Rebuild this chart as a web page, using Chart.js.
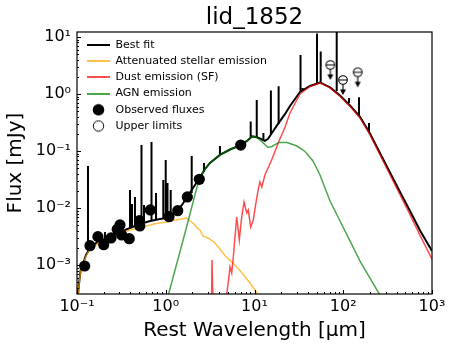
<!DOCTYPE html>
<html lang="en">
<head>
  <meta charset="UTF-8">
  <title>lid_1852</title>
  <script src="https://cdn.jsdelivr.net/npm/chart.js"></script>
  <style>
    html, body {
      margin: 0;
      padding: 0;
      background: #fff;
    }

    .box {
      width: 452px;
      height: 350px;
    }
  </style>
</head>
<body>
  <div class="box"><canvas id="sed"></canvas></div>
  <script>
  // best fit continuum (wavelength in micron, flux in mJy)
  const fitWave = [0.1013, 0.1053, 0.1095, 0.1139, 0.1199, 0.1263, 0.1365, 0.1476, 0.1595, 0.1816, 0.2067, 0.2353, 0.268, 0.305, 0.3474, 0.3955, 0.450, 0.513, 0.665, 0.861, 1.033, 1.176, 1.339, 1.524, 1.736, 2.028, 2.37, 2.77, 3.15, 4.08, 5.30, 6.87, 8.23, 9.38, 10.4, 11.5, 13.1, 14.2, 15.7, 18.4, 22.1, 25.1, 32.6, 42.2, 54.7, 71.0, 91.9, 119, 154.5, 200, 259, 336, 436, 565, 733, 1000];
  const fitFlux = [2.43e-4, 4.64e-4, 7.85e-4, 1.04e-3, 1.17e-3, 1.50e-3, 1.83e-3, 2.07e-3, 2.33e-3, 2.75e-3, 2.86e-3, 3.23e-3, 3.36e-3, 3.95e-3, 4.11e-3, 4.46e-3, 4.83e-3, 5.24e-3, 5.91e-3, 6.41e-3, 6.68e-3, 7.54e-3, 8.86e-3, 0.0113, 0.0156, 0.0224, 0.0323, 0.0483, 0.0616, 0.0851, 0.106, 0.125, 0.150, 0.180, 0.176, 0.166, 0.150, 0.163, 0.207, 0.298, 0.446, 0.616, 1.084, 1.382, 1.59, 1.30, 0.941, 0.629, 0.395, 0.203, 0.0923, 0.0420, 0.0191, 8.86e-3, 4.03e-3, 1.76e-3];

  // emission lines of the best fit
  const lineWave = [0.133, 0.2067, 0.3955, 0.4166, 0.450, 0.533, 0.569, 0.691, 0.777, 0.938, 0.999, 1.047, 1.137, 1.961, 2.70, 4.08, 9.06, 10.6, 12.6, 15.3, 18.7, 33.0, 34.9, 50.6, 55.7, 84.4, 116, 150.5, 195];
  const lineBase = [1.83e-3, 2.75e-3, 4.46e-3, 4.64e-3, 4.83e-3, 5.24e-3, 5.46e-3, 5.91e-3, 6.16e-3, 6.41e-3, 6.41e-3, 6.68e-3, 6.95e-3, 0.0183, 0.0429, 0.0851, 0.176, 0.176, 0.156, 0.199, 0.298, 1.08, 1.13, 1.56, 1.59, 1.13, 0.695, 0.411, 0.215];
  const linePeak = [0.0546, 3.79e-3, 0.0207, 0.01175, 0.0156, 0.127, 0.0113, 0.144, 0.0183, 0.0310, 0.0695, 0.0274, 0.0207, 0.0817, 0.0616, 0.122, 0.327, 0.785, 0.207, 1.15, 1.36, 4.83, 1.27, 11.5, 5.57, 20, 0.851, 0.875, 0.310];

  // attenuated stellar emission
  const starWave = [0.1013, 0.1053, 0.1095, 0.1139, 0.1199, 0.1263, 0.1365, 0.1476, 0.1595, 0.1816, 0.2067, 0.2353, 0.268, 0.305, 0.3474, 0.3955, 0.450, 0.513, 0.615, 0.737, 0.861, 1.033, 1.271, 1.524, 1.713, 1.876, 2.082, 2.25, 2.43, 2.63, 2.99, 3.50, 4.08, 4.78, 5.73, 7.42, 9.62, 11.2, 12.2];
  const starFlux = [2.43e-4, 4.46e-4, 7.54e-4, 1.0e-3, 1.13e-3, 1.44e-3, 1.76e-3, 1.91e-3, 2.15e-3, 2.53e-3, 2.64e-3, 2.98e-3, 3.10e-3, 3.64e-3, 3.79e-3, 4.11e-3, 4.28e-3, 4.64e-3, 4.83e-3, 5.24e-3, 5.46e-3, 5.68e-3, 6.16e-3, 6.41e-3, 6.68e-3, 5.91e-3, 5.24e-3, 4.46e-3, 4.11e-3, 3.23e-3, 2.98e-3, 2.53e-3, 1.91e-3, 1.38e-3, 1.08e-3, 6.95e-4, 4.11e-4, 2.86e-4, 2.43e-4];

  // dust emission (SF)
  const dustWave = [3.28, 3.32, 3.41, 4.78, 5.10, 5.30, 5.54, 5.77, 6.30, 6.74, 7.17, 7.62, 8.17, 8.51, 9.06, 9.69, 10.5, 11.0, 11.5, 12.1, 13.1, 15.6, 18.5, 22.1, 25.1, 32.6, 42.2, 54.7, 71.0, 91.9, 119, 154.5, 200, 259, 336, 436, 565, 733, 1000];
  const dustFlux = [1.99e-4, 1.22e-3, 1.99e-4, 2.43e-4, 5.46e-4, 9.23e-4, 7.24e-4, 1.38e-3, 6.95e-3, 2.75e-3, 6.95e-3, 0.01274, 8.17e-3, 9.22e-3, 4.64e-3, 6.16e-3, 0.0138, 0.0207, 0.0286, 0.0233, 0.0379, 0.0695, 0.138, 0.264, 0.464, 1.00, 1.354, 1.56, 1.274, 0.911, 0.608, 0.379, 0.193, 0.0861, 0.0384, 0.0171, 7.63e-3, 3.30e-3, 1.27e-3];

  // AGN emission
  const agnWave = [1.047, 1.648, 2.25, 2.63, 3.15, 4.08, 5.30, 6.87, 8.23, 9.38, 10.4, 12.2, 14.2, 15.7, 18.9, 23.2, 30.1, 37.1, 45.6, 54.7, 71.0, 91.9, 119, 154.5, 200, 259];
  const agnFlux = [2.64e-4, 3.64e-3, 0.0233, 0.0429, 0.0616, 0.0851, 0.106, 0.125, 0.150, 0.180, 0.176, 0.144, 0.115, 0.120, 0.141, 0.141, 0.122, 0.098, 0.0668, 0.0379, 0.01327, 5.91e-3, 2.64e-3, 1.17e-3, 5.91e-4, 2.98e-4];

  // photometry
  const obsWave = [0.122, 0.140, 0.172, 0.200, 0.242, 0.284, 0.305, 0.319, 0.388, 0.505, 0.51, 0.670, 1.089, 1.364, 1.75, 2.39, 7.0];
  const obsFlux = [9.6e-4, 2.18e-3, 3.14e-3, 2.27e-3, 2.98e-3, 4.23e-3, 5.04e-3, 3.36e-3, 2.89e-3, 5.98e-3, 4.83e-3, 9.23e-3, 7.03e-3, 8.97e-3, 0.0156, 0.0318, 0.127];
  const ulWave = [71.5, 99.3, 145.5];
  const ulFlux = [3.23, 1.76, 2.40];

  const xTicks = [0.1, 1, 10, 100, 1000];
  const xTickLabels = ["10⁻¹", "10⁰", "10¹", "10²", "10³"];
  const yTicks = [1e-3, 1e-2, 1e-1, 1, 10];
  const yTickLabels = ["10⁻³", "10⁻²", "10⁻¹", "10⁰", "10¹"];

  const legendNames = ["Best fit", "Attenuated stellar emission", "Dust emission (SF)", "AGN emission", "Observed fluxes", "Upper limits"];

  const FONT = "DejaVu Sans";
  const BLACK = "#000";
  const ORANGE = "rgba(255,165,0,0.7)";
  const RED = "rgba(255,0,0,0.7)";
  const GREEN = "rgba(0,128,0,0.7)";

  function pairs(xs, ys) {
    return xs.map((x, i) => ({ x: x, y: ys[i] }));
  }

  // each line is base -> peak, then a gap
  function spikes() {
    const out = [];
    lineWave.forEach((w, i) => {
      out.push({ x: w, y: lineBase[i] });
      out.push({ x: w, y: linePeak[i] });
      out.push({ x: w, y: null });
    });
    return out;
  }

  function lineIcon(color) {
    const c = document.createElement("canvas");
    c.width = 23; c.height = 2;
    const g = c.getContext("2d");
    g.fillStyle = color;
    g.fillRect(0, 0, 23, 2);
    return c;
  }

  function dotIcon(filled) {
    const c = document.createElement("canvas");
    c.width = 13; c.height = 13;
    const g = c.getContext("2d");
    g.beginPath();
    g.arc(6.5, 6.5, filled ? 5.8 : 5.2, 0, 2 * Math.PI);
    if (filled) { g.fillStyle = BLACK; g.fill(); }
    else { g.strokeStyle = BLACK; g.lineWidth = 1; g.stroke(); }
    return c;
  }

  // hollow circle with a downward arrow
  function upperIcon() {
    const c = document.createElement("canvas");
    c.width = 16; c.height = 40;
    const g = c.getContext("2d");
    g.strokeStyle = BLACK;
    g.fillStyle = BLACK;
    g.lineWidth = 1.1;
    g.beginPath();
    g.arc(8, 20, 4.3, 0, 2 * Math.PI);
    g.stroke();
    g.beginPath();
    g.moveTo(3.7, 20); g.lineTo(12.3, 20);
    g.moveTo(8, 24.3); g.lineTo(8, 30);
    g.stroke();
    g.beginPath();
    g.moveTo(5, 29.5); g.lineTo(11, 29.5); g.lineTo(8, 35);
    g.closePath();
    g.fill();
    return c;
  }

  const legendIcons = [lineIcon(BLACK), lineIcon(ORANGE), lineIcon(RED), lineIcon(GREEN), dotIcon(true), dotIcon(false)];

  // inward ticks and the box round the axes
  const frame = {
    id: "frame",
    afterDatasetsDraw(chart) {
      const { ctx, chartArea: a, scales } = chart;
      const xs = scales.x, ys = scales.y;
      ctx.save();
      ctx.strokeStyle = BLACK;
      ctx.lineWidth = 1;
      ctx.beginPath();
      for (let e = -1; e <= 3; e++) {
        for (let m = 1; m <= 9; m++) {
          const v = m * Math.pow(10, e);
          if (v < xs.min || v > xs.max) continue;
          const px = Math.round(xs.getPixelForValue(v)) + 0.5;
          const len = m === 1 ? 4 : 2;
          ctx.moveTo(px, a.bottom); ctx.lineTo(px, a.bottom - len);
        }
      }
      for (let e = -4; e <= 1; e++) {
        for (let m = 1; m <= 9; m++) {
          const v = m * Math.pow(10, e);
          if (v < ys.min || v > ys.max) continue;
          const py = Math.round(ys.getPixelForValue(v)) + 0.5;
          const len = m === 1 ? 4 : 2;
          ctx.moveTo(a.left, py); ctx.lineTo(a.left + len, py);
        }
      }
      ctx.stroke();
      ctx.lineWidth = 1.2;
      ctx.strokeRect(a.left, a.top, a.right - a.left, a.bottom - a.top);
      ctx.restore();
    },
    afterLayout(chart) {
      const lg = chart.legend, a = chart.chartArea;
      lg.left = a.left + 4.8;
      lg.top = a.top + 2.3;
      lg.right = a.right;
      lg.bottom = a.bottom;
    }
  };

  new Chart(document.getElementById("sed"), {
    type: "line",
    data: {
      datasets: [
        { label: "lines", data: spikes(), borderColor: BLACK, borderWidth: 2, pointRadius: 0, spanGaps: false, order: 6 },
        { label: legendNames[0], data: pairs(fitWave, fitFlux), borderColor: BLACK, borderWidth: 2, pointRadius: 0, order: 5 },
        { label: legendNames[1], data: pairs(starWave, starFlux), borderColor: ORANGE, borderWidth: 1.5, pointRadius: 0, order: 4 },
        { label: legendNames[2], data: pairs(dustWave, dustFlux), borderColor: RED, borderWidth: 1.5, pointRadius: 0, order: 3 },
        { label: legendNames[3], data: pairs(agnWave, agnFlux), borderColor: GREEN, borderWidth: 1.5, pointRadius: 0, order: 2 },
        { label: legendNames[4], data: pairs(obsWave, obsFlux), showLine: false, pointRadius: 5.6, pointBorderWidth: 0, backgroundColor: BLACK, borderColor: BLACK, order: 1 },
        { label: legendNames[5], data: pairs(ulWave, ulFlux), showLine: false, pointStyle: upperIcon(), pointRadius: 6, order: 0 }
      ]
    },
    options: {
      responsive: true,
      maintainAspectRatio: false,
      animation: false,
      layout: { padding: { left: 0, right: 20, top: 0, bottom: 0 } },
      elements: { line: { tension: 0 } },
      scales: {
        x: {
          type: "logarithmic",
          min: 0.1,
          max: 1000,
          bounds: "data",
          afterBuildTicks: s => { s.ticks = xTicks.map(v => ({ value: v })); },
          afterFit: s => { s.height = 56; },
          grid: { display: false, drawTicks: false },
          border: { display: false },
          ticks: {
            autoSkip: false, maxRotation: 0, padding: 3, color: BLACK,
            font: { family: FONT, size: 16 },
            callback: (v, i) => xTickLabels[i]
          },
          title: {
            display: true, text: "Rest Wavelength [μm]", color: BLACK,
            font: { family: FONT, size: 20 }, padding: { top: 0, bottom: 7 }
          }
        },
        y: {
          type: "logarithmic",
          min: 3.1e-4,
          max: 12.2,
          bounds: "data",
          afterBuildTicks: s => { s.ticks = yTicks.map(v => ({ value: v })); },
          afterFit: s => { s.width = 77; },
          grid: { display: false, drawTicks: false },
          border: { display: false },
          ticks: {
            autoSkip: false, padding: 6, color: BLACK,
            font: { family: FONT, size: 16 },
            callback: (v, i) => yTickLabels[i]
          },
          title: {
            display: true, text: "Flux [mJy]", color: BLACK,
            font: { family: FONT, size: 20 }, padding: { top: 4, bottom: 0 }
          }
        }
      },
      plugins: {
        title: {
          display: true, text: "lid_1852", color: BLACK, fullSize: false,
          font: { family: FONT, size: 23, weight: "normal" },
          padding: { top: 4.4, bottom: 0 }
        },
        legend: {
          position: "chartArea",
          align: "start",
          labels: {
            usePointStyle: true,
            pointStyleWidth: 23,
            padding: 5.2,
            color: BLACK,
            font: { family: FONT, size: 11 },
            generateLabels: () => legendNames.map((t, i) => ({
              text: t, pointStyle: legendIcons[i], fillStyle: BLACK, strokeStyle: BLACK,
              lineWidth: 0, hidden: false, datasetIndex: i + 1
            }))
          }
        },
        tooltip: { enabled: false }
      }
    },
    plugins: [frame]
  });
</script>
</body>
</html>
